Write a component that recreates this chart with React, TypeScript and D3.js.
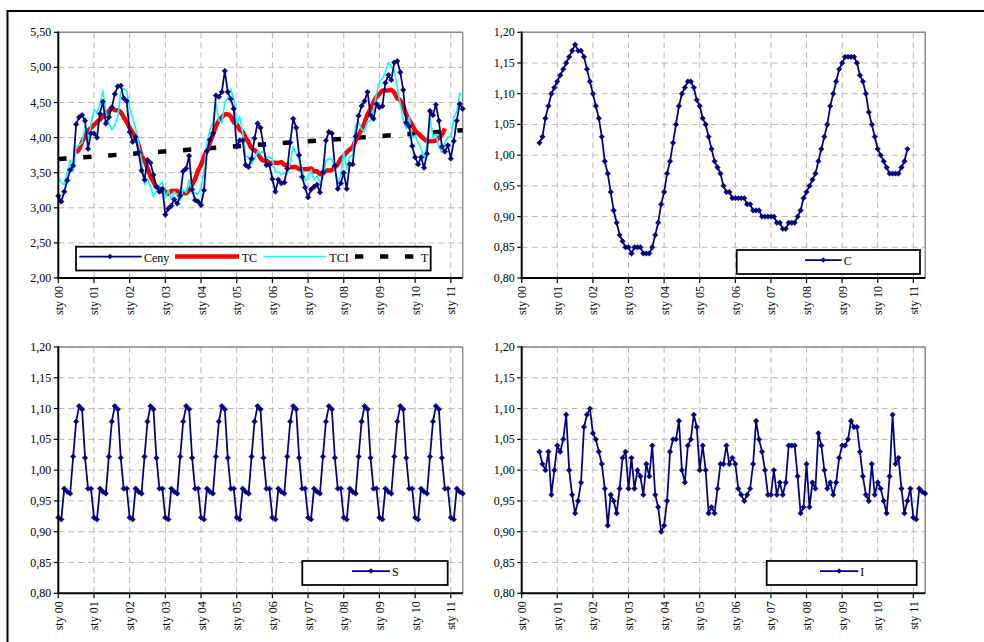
import React from 'react';
import * as d3 from 'd3';

// ---------- DATA ----------
const yearLabels = ["sty 00", "sty 01", "sty 02", "sty 03", "sty 04", "sty 05", "sty 06", "sty 07", "sty 08", "sty 09", "sty 10", "sty 11"];
const monthsPerYear = 12;
const monthDomain = [0, 136];

const priceTicks = [2.0, 2.5, 3.0, 3.5, 4.0, 4.5, 5.0, 5.5];
const ratioTicks = [0.8, 0.85, 0.9, 0.95, 1.0, 1.05, 1.1, 1.15, 1.2];

// Ceny (months 0..136)
const ceny = [
  3.17, 3.09, 3.23, 3.39, 3.54, 3.60, 4.19, 4.29, 4.32, 4.24, 3.84, 4.06,
  4.06, 4.00, 4.34, 4.51, 4.20, 4.29, 4.43, 4.62, 4.73, 4.74, 4.56, 4.52,
  4.08, 3.94, 4.01, 3.79, 3.53, 3.40, 3.68, 3.64, 3.47, 3.30, 3.23, 3.27,
  2.90, 2.99, 3.03, 3.12, 3.06, 3.17, 3.52, 3.56, 3.74, 3.26, 3.11, 3.09,
  3.04, 3.25, 3.81, 3.97, 4.06, 4.60, 4.58, 4.65, 4.95, 4.65, 4.55, 4.41,
  3.87, 3.96, 3.96, 3.61, 3.58, 3.70, 3.99, 4.20, 4.14, 3.89, 3.61, 3.61,
  3.41, 3.23, 3.40, 3.35, 3.36, 3.56, 3.93, 4.27, 4.14, 3.75, 3.44, 3.29,
  3.15, 3.26, 3.30, 3.33, 3.22, 3.51, 3.96, 4.08, 4.06, 3.60, 3.27, 3.35,
  3.50, 3.27, 3.62, 3.62, 4.02, 4.31, 4.45, 4.52, 4.65, 4.32, 4.27, 4.48,
  4.43, 4.45, 4.78, 4.89, 4.82, 5.07, 5.09, 4.93, 4.68, 4.21, 4.16, 3.88,
  3.72, 3.62, 3.72, 3.57, 3.77, 4.38, 4.32, 4.47, 4.24, 3.87, 3.80, 3.89,
  3.70, 3.95, 4.24, 4.48, 4.41,
];

// TCI (months 0..136)
const tci = [
  3.43, 3.36, 3.33, 3.51, 3.68, 3.52, 3.88, 3.89, 3.93, 4.16, 3.96, 4.19,
  4.40, 4.35, 4.47, 4.67, 4.37, 4.20, 4.11, 4.18, 4.30, 4.65, 4.70, 4.66,
  4.42, 4.28, 4.13, 3.93, 3.67, 3.33, 3.41, 3.30, 3.16, 3.24, 3.33, 3.37,
  3.14, 3.25, 3.12, 3.23, 3.18, 3.10, 3.26, 3.22, 3.40, 3.20, 3.21, 3.19,
  3.29, 3.53, 3.93, 4.11, 4.22, 4.50, 4.24, 4.21, 4.50, 4.56, 4.69, 4.55,
  4.19, 4.30, 4.08, 3.74, 3.72, 3.62, 3.70, 3.80, 3.77, 3.81, 3.72, 3.72,
  3.69, 3.51, 3.51, 3.47, 3.49, 3.48, 3.64, 3.87, 3.77, 3.68, 3.55, 3.39,
  3.41, 3.54, 3.40, 3.45, 3.35, 3.43, 3.67, 3.70, 3.69, 3.53, 3.37, 3.45,
  3.79, 3.55, 3.73, 3.75, 4.18, 4.22, 4.12, 4.09, 4.23, 4.24, 4.40, 4.62,
  4.80, 4.84, 4.93, 5.07, 5.01, 4.96, 4.72, 4.47, 4.26, 4.13, 4.29, 4.00,
  4.03, 3.93, 3.84, 3.70, 3.92, 4.29, 4.00, 4.05, 3.86, 3.79, 3.92, 4.01,
  4.01, 4.29, 4.37, 4.64, 4.58,
];

// TC (months 6..130)
const tcStart = 6;
const tc = [
  3.79, 3.83, 3.94, 4.02, 4.10, 4.14, 4.18, 4.22, 4.26, 4.30, 4.34, 4.38,
  4.42, 4.39, 4.39, 4.36, 4.29, 4.22, 4.14, 4.07, 4.00, 3.89, 3.74, 3.67,
  3.56, 3.45, 3.37, 3.30, 3.27, 3.23, 3.23, 3.20, 3.24, 3.24, 3.24, 3.21,
  3.21, 3.21, 3.25, 3.33, 3.41, 3.53, 3.61, 3.73, 3.81, 3.93, 4.04, 4.16,
  4.24, 4.29, 4.33, 4.33, 4.30, 4.22, 4.19, 4.11, 4.08, 4.00, 3.93, 3.85,
  3.82, 3.78, 3.71, 3.67, 3.67, 3.64, 3.64, 3.64, 3.64, 3.65, 3.61, 3.61,
  3.58, 3.58, 3.58, 3.55, 3.55, 3.55, 3.55, 3.56, 3.52, 3.52, 3.48, 3.49,
  3.53, 3.53, 3.54, 3.58, 3.62, 3.70, 3.74, 3.79, 3.83, 3.87, 3.96, 4.04,
  4.12, 4.21, 4.33, 4.41, 4.50, 4.58, 4.62, 4.67, 4.67, 4.67, 4.68, 4.64,
  4.56, 4.53, 4.45, 4.33, 4.25, 4.18, 4.10, 4.06, 4.02, 3.98, 3.95, 3.95,
  3.95, 3.96, 4.00, 4.04, 4.13,
];

// T (linear trend, end points)
const trendMonths = [0, 136];
const trendValues = [3.695, 4.105];

// C (months 6..130)
const cStart = 6;
const cVals = [
  1.02, 1.03, 1.06, 1.08, 1.10, 1.11, 1.12, 1.13, 1.14, 1.15, 1.16, 1.17,
  1.18, 1.17, 1.17, 1.16, 1.14, 1.12, 1.10, 1.08, 1.06, 1.03, 0.99, 0.97,
  0.94, 0.91, 0.89, 0.87, 0.86, 0.85, 0.85, 0.84, 0.85, 0.85, 0.85, 0.84,
  0.84, 0.84, 0.85, 0.87, 0.89, 0.92, 0.94, 0.97, 0.99, 1.02, 1.05, 1.08,
  1.10, 1.11, 1.12, 1.12, 1.11, 1.09, 1.08, 1.06, 1.05, 1.03, 1.01, 0.99,
  0.98, 0.97, 0.95, 0.94, 0.94, 0.93, 0.93, 0.93, 0.93, 0.93, 0.92, 0.92,
  0.91, 0.91, 0.91, 0.90, 0.90, 0.90, 0.90, 0.90, 0.89, 0.89, 0.88, 0.88,
  0.89, 0.89, 0.89, 0.90, 0.91, 0.93, 0.94, 0.95, 0.96, 0.97, 0.99, 1.01,
  1.03, 1.05, 1.08, 1.10, 1.12, 1.14, 1.15, 1.16, 1.16, 1.16, 1.16, 1.15,
  1.13, 1.12, 1.10, 1.07, 1.05, 1.03, 1.01, 1.00, 0.99, 0.98, 0.97, 0.97,
  0.97, 0.97, 0.98, 0.99, 1.01,
];

// S (months 0..136)
const sVals = [
  0.923, 0.920, 0.970, 0.965, 0.962, 1.022, 1.079, 1.104, 1.099, 1.020, 0.970, 0.970,
  0.923, 0.920, 0.970, 0.965, 0.962, 1.022, 1.079, 1.104, 1.099, 1.020, 0.970, 0.970,
  0.923, 0.920, 0.970, 0.965, 0.962, 1.022, 1.079, 1.104, 1.099, 1.020, 0.970, 0.970,
  0.923, 0.920, 0.970, 0.965, 0.962, 1.022, 1.079, 1.104, 1.099, 1.020, 0.970, 0.970,
  0.923, 0.920, 0.970, 0.965, 0.962, 1.022, 1.079, 1.104, 1.099, 1.020, 0.970, 0.970,
  0.923, 0.920, 0.970, 0.965, 0.962, 1.022, 1.079, 1.104, 1.099, 1.020, 0.970, 0.970,
  0.923, 0.920, 0.970, 0.965, 0.962, 1.022, 1.079, 1.104, 1.099, 1.020, 0.970, 0.970,
  0.923, 0.920, 0.970, 0.965, 0.962, 1.022, 1.079, 1.104, 1.099, 1.020, 0.970, 0.970,
  0.923, 0.920, 0.970, 0.965, 0.962, 1.022, 1.079, 1.104, 1.099, 1.020, 0.970, 0.970,
  0.923, 0.920, 0.970, 0.965, 0.962, 1.022, 1.079, 1.104, 1.099, 1.020, 0.970, 0.970,
  0.923, 0.920, 0.970, 0.965, 0.962, 1.022, 1.079, 1.104, 1.099, 1.020, 0.970, 0.970,
  0.923, 0.920, 0.970, 0.965, 0.962,
];

// I (months 6..136)
const iStart = 6;
const iVals = [
  1.03, 1.01, 1.00,
  1.03, 0.96, 1.00, 1.04, 1.03, 1.05, 1.09, 1.00, 0.96, 0.93,
  0.95, 0.98, 1.07, 1.09, 1.10, 1.06, 1.05, 1.03, 1.01, 0.97,
  0.91, 0.96, 0.95, 0.93, 0.97, 1.02, 1.03, 0.97, 1.02, 0.97,
  1.00, 0.99, 0.96, 1.01, 0.99, 1.04, 0.96, 0.94, 0.90, 0.91,
  0.95, 1.03, 1.05, 1.05, 1.08, 1.00, 0.98, 1.04, 1.05, 1.09,
  1.07, 1.00, 1.04, 1.00, 0.93, 0.94, 0.93, 0.97, 1.01, 1.01,
  1.04, 1.01, 1.02, 1.01, 0.97, 0.96, 0.95, 0.96, 0.97, 1.01,
  1.08, 1.05, 1.03, 1.00, 0.96, 0.96, 1.00, 0.96, 0.98, 0.96,
  0.98, 1.04, 1.04, 1.04, 0.99, 0.93, 0.94, 1.01, 0.94, 0.98,
  0.97, 1.06, 1.04, 1.00, 0.97, 0.98, 0.96, 0.98, 1.02, 1.04,
  1.04, 1.05, 1.08, 1.07, 1.07, 1.03, 0.99, 0.96, 0.95, 1.01,
  0.96, 0.98, 0.97, 0.95, 0.93, 0.99, 1.09, 1.01, 1.02, 0.97,
  0.93, 0.95, 0.97, 0.923, 0.92, 0.97, 0.965, 0.962,
];

// ---------- STYLE ----------
const NAVY = '#000080';
const FONT = '"Liberation Serif", "Times New Roman", serif';
const GRID = '#b8b8b8';

const fmt = (v: number) => v.toFixed(2).replace('.', ',');

type Box = { left: number; right: number; top: number; bottom: number };

function Diamonds({ pts }: { pts: [number, number][] }) {
  const r = 2.7;
  return (
    <g>
      {pts.map(([x, y], i) => (
        <path key={i} d={`M${x},${y - r}L${x + r},${y}L${x},${y + r}L${x - r},${y}Z`} fill={NAVY} stroke={NAVY} strokeWidth={0.6} />
      ))}
    </g>
  );
}

function Frame({ box, y, ticks, x, children }: { box: Box; y: d3.ScaleLinear<number, number>; ticks: number[]; x: d3.ScaleLinear<number, number>; children?: React.ReactNode }) {
  const years = yearLabels.map((l, k) => ({ l, m: k * monthsPerYear }));
  return (
    <g>
      {/* gridlines */}
      {ticks.slice(1).map((t) => (
        <line key={'h' + t} x1={box.left} x2={box.right} y1={y(t)} y2={y(t)} stroke={GRID} strokeWidth={1} strokeDasharray="6 4" />
      ))}
      {years.slice(1).map((d) => (
        <line key={'v' + d.m} x1={x(d.m)} x2={x(d.m)} y1={box.top} y2={box.bottom} stroke={GRID} strokeWidth={1} strokeDasharray="6 4" />
      ))}
      {/* plot area border (top, right) */}
      <line x1={box.left} x2={box.right} y1={box.top} y2={box.top} stroke="#8c8c8c" strokeWidth={1.5} />
      <line x1={box.right} x2={box.right} y1={box.top} y2={box.bottom} stroke="#8c8c8c" strokeWidth={1.5} />
      {children}
      {/* axes */}
      <line x1={box.left} x2={box.left} y1={box.top - 0.75} y2={box.bottom + 1} stroke="#000" strokeWidth={2} />
      <line x1={box.left - 1} x2={box.right} y1={box.bottom} y2={box.bottom} stroke="#000" strokeWidth={2} />
      {ticks.map((t) => (
        <g key={'yt' + t}>
          <line x1={box.left - 4.5} x2={box.left} y1={y(t)} y2={y(t)} stroke="#000" strokeWidth={1.2} />
          <text x={box.left - 7} y={y(t)} textAnchor="end" dominantBaseline="central" fontSize={12} fontFamily={FONT} fill="#000">{fmt(t)}</text>
        </g>
      ))}
      {years.map((d) => (
        <g key={'xt' + d.m}>
          <line x1={x(d.m)} x2={x(d.m)} y1={box.bottom} y2={box.bottom + 5} stroke="#000" strokeWidth={1.2} />
          <text transform={`translate(${x(d.m) + 0.5},${box.bottom + 8}) rotate(-90)`} textAnchor="end" dominantBaseline="central" fontSize={12} fontFamily={FONT} fill="#000">{d.l}</text>
        </g>
      ))}
    </g>
  );
}

function NavyLegend({ x0, x1, y0, y1, lx0, lx1, ly, label }: { x0: number; x1: number; y0: number; y1: number; lx0: number; lx1: number; ly: number; label: string }) {
  const mx = (lx0 + lx1) / 2;
  const r = 2.7;
  return (
    <g>
      <rect x={x0} y={y0} width={x1 - x0} height={y1 - y0} fill="#fff" stroke="#000" strokeWidth={1.75} />
      <line x1={lx0} x2={lx1} y1={ly} y2={ly} stroke={NAVY} strokeWidth={1.75} />
      <path d={`M${mx},${ly - r}L${mx + r},${ly}L${mx},${ly + r}L${mx - r},${ly}Z`} fill={NAVY} />
      <text x={lx1 + 2} y={ly + 1} dominantBaseline="central" fontSize={12} fontFamily={FONT}>{label}</text>
    </g>
  );
}

export default function App() {
  const boxTL: Box = { left: 58.3, right: 462.7, top: 32.3, bottom: 278 };
  const boxTR: Box = { left: 521.7, right: 925.2, top: 32.3, bottom: 278 };
  const boxBL: Box = { left: 58.3, right: 462.7, top: 347, bottom: 593.3 };
  const boxBR: Box = { left: 521.7, right: 925.2, top: 347, bottom: 593.3 };

  const xL = d3.scaleLinear().domain(monthDomain).range([boxTL.left, boxTL.right]);
  const xR = d3.scaleLinear().domain(monthDomain).range([boxTR.left, boxTR.right]);
  const yP = d3.scaleLinear().domain([priceTicks[0], priceTicks[priceTicks.length - 1]]).range([boxTL.bottom, boxTL.top]);
  const yC = d3.scaleLinear().domain([ratioTicks[0], ratioTicks[ratioTicks.length - 1]]).range([boxTR.bottom, boxTR.top]);
  const yB = d3.scaleLinear().domain([ratioTicks[0], ratioTicks[ratioTicks.length - 1]]).range([boxBL.bottom, boxBL.top]);

  const pts = (vals: number[], start: number, x: d3.ScaleLinear<number, number>, y: d3.ScaleLinear<number, number>) =>
    vals.map((v, i) => [x(start + i), y(v)] as [number, number]);

  const line = d3.line<[number, number]>();
  const smooth = d3.line<[number, number]>().curve(d3.curveCatmullRom.alpha(0.5));

  const cenyPts = pts(ceny, 0, xL, yP);
  const tciPts = pts(tci, 0, xL, yP);
  const tcPts = pts(tc, tcStart, xL, yP);
  const trendPts = trendMonths.map((m, i) => [xL(m), yP(trendValues[i])] as [number, number]);
  const cPts = pts(cVals, cStart, xR, yC);
  const sPts = pts(sVals, 0, xL, yB);
  const iPts = pts(iVals, iStart, xR, yB);

  return (
    <svg width={984} height={642} style={{ position: 'absolute', left: 0, top: 0, background: '#fff' }} fontFamily={FONT}>
      <rect x={0} y={0} width={984} height={642} fill="#fff" />
      <rect x={7.5} y={11} width={1000} height={700} fill="none" stroke="#000" strokeWidth={2} />

      {/* Panel 1 */}
      <Frame box={boxTL} x={xL} y={yP} ticks={priceTicks}>
        <path d={line(trendPts) || ''} fill="none" stroke="#000" strokeWidth={4.5} strokeDasharray="8.3 16.7" />
        <path d={smooth(tcPts) || ''} fill="none" stroke="#ff0000" strokeWidth={4.5} strokeLinejoin="round" />
        <path d={line(tciPts) || ''} fill="none" stroke="#00ffff" strokeWidth={1.6} strokeLinejoin="round" />
        <path d={line(cenyPts) || ''} fill="none" stroke={NAVY} strokeWidth={1.75} strokeLinejoin="round" />
        <Diamonds pts={cenyPts} />
      </Frame>
      <g>
        <rect x={76} y={246.7} width={354.7} height={23.8} fill="#fff" stroke="#000" strokeWidth={1.75} />
        <line x1={79.3} x2={141.7} y1={256.5} y2={256.5} stroke={NAVY} strokeWidth={1.75} />
        <path d="M110,253.8L112.7,256.5L110,259.2L107.3,256.5Z" fill={NAVY} />
        <text x={144} y={257.5} dominantBaseline="central" fontSize={12} fontFamily={FONT}>Ceny</text>
        <line x1={175} x2={239} y1={256.5} y2={256.5} stroke="#ff0000" strokeWidth={4.5} />
        <text x={241.7} y={257.5} dominantBaseline="central" fontSize={12} fontFamily={FONT}>TC</text>
        <line x1={263.3} x2={326} y1={256.5} y2={256.5} stroke="#00ffff" strokeWidth={1.6} />
        <text x={329.3} y={257.5} dominantBaseline="central" fontSize={12} fontFamily={FONT}>TCI</text>
        <line x1={355} x2={413.3} y1={256.5} y2={256.5} stroke="#000" strokeWidth={4.5} strokeDasharray="8.3 16.7" />
        <text x={421} y={257.5} dominantBaseline="central" fontSize={12} fontFamily={FONT}>T</text>
      </g>

      {/* Panel 2 */}
      <Frame box={boxTR} x={xR} y={yC} ticks={ratioTicks}>
        <path d={line(cPts) || ''} fill="none" stroke={NAVY} strokeWidth={1.75} strokeLinejoin="round" />
        <Diamonds pts={cPts} />
      </Frame>
      <NavyLegend x0={736.7} x1={920} y0={250} y1={274} lx0={805} lx1={841.7} ly={260} label="C" />

      {/* Panel 3 */}
      <Frame box={boxBL} x={xL} y={yB} ticks={ratioTicks}>
        <path d={line(sPts) || ''} fill="none" stroke={NAVY} strokeWidth={1.75} strokeLinejoin="round" />
        <Diamonds pts={sPts} />
      </Frame>
      <NavyLegend x0={302.3} x1={447.7} y0={561} y1={585} lx0={352} lx1={390} ly={571} label="S" />

      {/* Panel 4 */}
      <Frame box={boxBR} x={xR} y={yB} ticks={ratioTicks}>
        <path d={line(iPts) || ''} fill="none" stroke={NAVY} strokeWidth={1.75} strokeLinejoin="round" />
        <Diamonds pts={iPts} />
      </Frame>
      <NavyLegend x0={766.7} x1={916.7} y0={561} y1={585} lx0={820} lx1={858.3} ly={571} label="I" />
    </svg>
  );
}
